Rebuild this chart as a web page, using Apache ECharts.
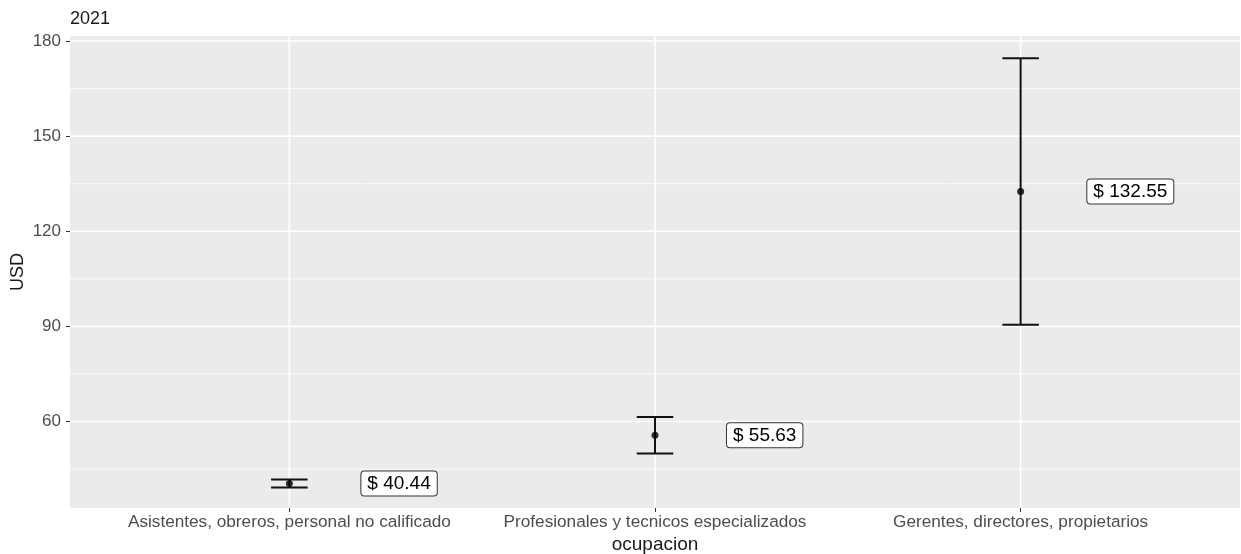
<!DOCTYPE html>
<html>
<head>
<meta charset="utf-8">
<script src="https://cdn.jsdelivr.net/npm/echarts@6/dist/echarts.min.js"></script>
<style>
html,body{margin:0;padding:0;background:#fff;}
#chart{width:1241px;height:554px;}
</style>
</head>
<body>
<div id="chart"></div>
<script>
const categories = ['Asistentes, obreros, personal no calificado', 'Profesionales y tecnicos especializados', 'Gerentes, directores, propietarios'];
const means = [40.44, 55.63, 132.55];
const lower = [39.2, 49.9, 90.5];
const upper = [41.7, 61.4, 174.6];
const labels = ['$ 40.44', '$ 55.63', '$ 132.55'];
const yMajorTicks = [60, 90, 120, 150, 180];
const yMinorTicks = [45, 75, 105, 135, 165];
const xTicks = [1, 2, 3];

const FONT = '"Liberation Sans", Arial, sans-serif';
const chart = echarts.init(document.getElementById('chart'), null, {renderer: 'canvas'});

const capHalf = 0.05;
const labelShift = 0.3;

const option = {
  animation: false,
  backgroundColor: '#ffffff',
  title: {
    text: '2021', left: 65, top: 5,
    textStyle: {fontFamily: FONT, fontSize: 18, fontWeight: 'normal', color: '#1a1a1a'}
  },
  grid: {left: 70, right: 1, top: 36, bottom: 46, show: true, backgroundColor: '#EBEBEB', borderWidth: 0,
    containLabel: false, outerBoundsMode: 'none'},
  xAxis: {
    type: 'value', min: 0.4, max: 3.6,
    name: 'ocupacion', nameLocation: 'middle', nameGap: 27, nameMoveOverlap: false,
    nameTextStyle: {fontFamily: FONT, fontSize: 19, color: '#1a1a1a'},
    axisLine: {show: false},
    axisTick: {show: true, customValues: xTicks, length: 4, lineStyle: {color: '#333', width: 1}},
    axisLabel: {customValues: xTicks, margin: 6, fontFamily: FONT, fontSize: 17.2, color: '#4D4D4D',
      formatter: v => categories[Math.round(v) - 1]},
    splitLine: {show: false}
  },
  yAxis: {
    type: 'value', min: 32.7, max: 181.6,
    name: 'USD', nameLocation: 'middle', nameGap: 43, nameRotate: 90, nameMoveOverlap: false,
    nameTextStyle: {fontFamily: FONT, fontSize: 18, color: '#1a1a1a'},
    axisLine: {show: false},
    axisTick: {show: true, customValues: yMajorTicks, length: 4, lineStyle: {color: '#333', width: 1}},
    axisLabel: {customValues: yMajorTicks, margin: 9, fontFamily: FONT, fontSize: 17, color: '#4D4D4D'},
    splitLine: {show: false}
  },
  series: [
    {
      type: 'custom', z: 1, silent: true,
      data: [0],
      renderItem: (params, api) => {
        const cs = params.coordSys;
        const children = [];
        yMinorTicks.forEach(v => {
          const p = api.coord([1, v]);
          children.push({type: 'line', shape: {x1: cs.x, y1: p[1], x2: cs.x + cs.width, y2: p[1]},
            style: {stroke: '#ffffff', lineWidth: 0.8}});
        });
        yMajorTicks.forEach(v => {
          const p = api.coord([1, v]);
          children.push({type: 'line', shape: {x1: cs.x, y1: p[1], x2: cs.x + cs.width, y2: p[1]},
            style: {stroke: '#ffffff', lineWidth: 1.6}});
        });
        xTicks.forEach(v => {
          const p = api.coord([v, 100]);
          children.push({type: 'line', shape: {x1: p[0], y1: cs.y, x2: p[0], y2: cs.y + cs.height},
            style: {stroke: '#ffffff', lineWidth: 1.6}});
        });
        return {type: 'group', children};
      }
    },
    {
      type: 'custom', z: 3, silent: true,
      data: categories.map((c, i) => [i + 1, lower[i], upper[i]]),
      renderItem: (params, api) => {
        const x = api.value(0), lo = api.value(1), hi = api.value(2);
        const pLo = api.coord([x, lo]), pHi = api.coord([x, hi]);
        const l1 = api.coord([x - capHalf, hi]), r1 = api.coord([x + capHalf, hi]);
        const l2 = api.coord([x - capHalf, lo]), r2 = api.coord([x + capHalf, lo]);
        const st = {stroke: '#111', lineWidth: 2};
        return {type: 'group', children: [
          {type: 'line', shape: {x1: pLo[0], y1: pLo[1], x2: pHi[0], y2: pHi[1]}, style: st},
          {type: 'line', shape: {x1: l1[0], y1: l1[1], x2: r1[0], y2: r1[1]}, style: st},
          {type: 'line', shape: {x1: l2[0], y1: l2[1], x2: r2[0], y2: r2[1]}, style: st}
        ]};
      }
    },
    {
      type: 'scatter', z: 4, silent: true,
      symbol: 'circle', symbolSize: 7,
      itemStyle: {color: '#000'},
      data: categories.map((c, i) => [i + 1, means[i]])
    },
    {
      type: 'custom', z: 5, silent: true,
      data: categories.map((c, i) => [i + 1 + labelShift, means[i]]),
      renderItem: (params, api) => {
        const p = api.coord([api.value(0), api.value(1)]);
        return {
          type: 'text', x: p[0], y: p[1],
          style: {
            text: labels[params.dataIndex],
            fontFamily: FONT, fontSize: 19, fill: '#000',
            align: 'center', verticalAlign: 'middle',
            backgroundColor: '#fff', borderColor: '#333', borderWidth: 1, borderRadius: 3,
            padding: [3, 6, 2, 6]
          }
        };
      }
    }
  ]
};
chart.setOption(option);
</script>
</body>
</html>
